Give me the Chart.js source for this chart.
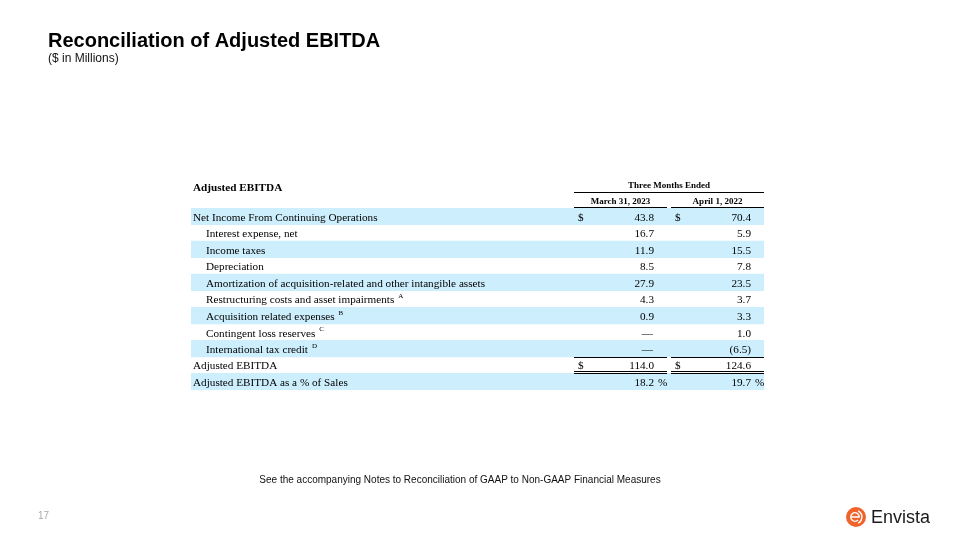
<!DOCTYPE html>
<html>
<head>
<meta charset="utf-8">
<script src="https://cdn.jsdelivr.net/npm/chart.js@4"></script>
<style>
  html, body { margin: 0; padding: 0; background: #fff; }
  #wrap { width: 960px; height: 540px; position: relative; }
</style>
</head>
<body>
<div id="wrap"><canvas id="recon" width="960" height="540"></canvas></div>
<script>
// table rows, top to bottom
const rowLabels = [
    'Net Income From Continuing Operations',
    'Interest expense, net',
    'Income taxes',
    'Depreciation',
    'Amortization of acquisition-related and other intangible assets',
    'Restructuring costs and asset impairments',
    'Acquisition related expenses',
    'Contingent loss reserves',
    'International tax credit',
    'Adjusted EBITDA',
    'Adjusted EBITDA as a % of Sales'
];
const rowIndent = [0, 1, 1, 1, 1, 1, 1, 1, 1, 0, 0];
const footnotes = ['', '', '', '', '', 'A', 'B', 'C', 'D', '', ''];
const periods = ['March 31, 2023', 'April 1, 2022'];
const march2023 = [43.8, 16.7, 11.9, 8.5, 27.9, 4.3, 0.9, null, null, 114.0, 18.2];
const april2022 = [70.4, 5.9, 15.5, 7.8, 23.5, 3.7, 3.3, 1.0, -6.5, 124.6, 19.7];
const dollarRows = [0, 9];
const percentRows = [10];
const totalRow = 9;

const SHADE = '#cdeefc';
const SERIF = '"Liberation Serif", "Times New Roman", serif';
const SANS = '"Liberation Sans", Arial, sans-serif';

function fmt(v) {
    if (v === null) return '\u2014';
    if (v < 0) return '(' + Math.abs(v).toFixed(1) + ')';
    return v.toFixed(1);
}

// every other row gets a light blue band
const shading = rowLabels.map((_, i) => (i % 2 === 0 ? [0, 1] : null));

const tablePlugin = {
    id: 'tableText',
    afterDatasetsDraw(chart) {
        const ctx = chart.ctx;
        const ca = chart.chartArea;
        const yScale = chart.scales.y;
        const left = ca.left;
        // column geometry (px from table left)
        const colStart = [left + 383, left + 480];
        const colEnd = [left + 476, left + 573];
        const numRight = [left + 463, left + 560];
        const body = '11.2px ' + SERIF;

        ctx.save();
        ctx.textBaseline = 'middle';

        // headers
        ctx.fillStyle = '#000';
        ctx.font = 'bold 11.2px ' + SERIF;
        ctx.textAlign = 'left';
        ctx.fillText('Adjusted EBITDA', left + 2, ca.top - 20);
        ctx.font = 'bold 9px ' + SERIF;
        ctx.textAlign = 'center';
        ctx.fillText('Three Months Ended', (colStart[0] + colEnd[1]) / 2, ca.top - 22);
        periods.forEach((p, k) => ctx.fillText(p, (colStart[k] + colEnd[k]) / 2, ca.top - 6.5));

        ctx.strokeStyle = '#000';
        ctx.lineWidth = 1;
        const hline = (x1, x2, y) => {
            ctx.beginPath();
            ctx.moveTo(x1, Math.round(y) + 0.5);
            ctx.lineTo(x2, Math.round(y) + 0.5);
            ctx.stroke();
        };
        hline(colStart[0], colEnd[1], ca.top - 16);
        for (let k = 0; k < 2; k++) hline(colStart[k], colEnd[k], ca.top - 1);

        // body rows
        rowLabels.forEach((label, i) => {
            const y = yScale.getPixelForValue(i) + (i === totalRow ? 0.5 : 1.5);
            ctx.textAlign = 'left';
            ctx.font = body;
            const lx = left + 2 + rowIndent[i] * 13;
            ctx.fillText(label, lx, y);
            if (footnotes[i]) {
                const w = ctx.measureText(label).width;
                ctx.font = '7px ' + SERIF;
                ctx.fillText(footnotes[i], lx + w + 4, y - 4);
                ctx.font = body;
            }
            [march2023, april2022].forEach((series, k) => {
                const v = series[i];
                ctx.textAlign = 'right';
                if (v === null) {
                    ctx.fillText(fmt(v), numRight[k] - 1, y);
                } else {
                    ctx.fillText(fmt(v), numRight[k], y);
                }
                if (percentRows.includes(i)) {
                    ctx.textAlign = 'left';
                    ctx.fillText('%', numRight[k] + 4, y);
                }
                if (dollarRows.includes(i)) {
                    ctx.textAlign = 'left';
                    ctx.fillText('$', colStart[k] + 4, y);
                }
            });
        });

        // rules above and below the total
        const step = yScale.getPixelForValue(1) - yScale.getPixelForValue(0);
        const totalTop = yScale.getPixelForValue(totalRow) - step / 2;
        const totalBottom = yScale.getPixelForValue(totalRow) + step / 2;
        for (let k = 0; k < 2; k++) {
            hline(colStart[k], colEnd[k], totalTop);
            hline(colStart[k], colEnd[k], totalBottom - 2);
            hline(colStart[k], colEnd[k], totalBottom);
        }

        // slide title and footer
        ctx.textAlign = 'left';
        ctx.textBaseline = 'alphabetic';
        ctx.fillStyle = '#000';
        ctx.font = 'bold 20px ' + SANS;
        ctx.fillText('Reconciliation of Adjusted EBITDA', 48, 47);
        ctx.font = '12px ' + SANS;
        ctx.fillStyle = '#111';
        ctx.fillText('($ in Millions)', 48, 62);
        ctx.font = '10px ' + SANS;
        ctx.textAlign = 'center';
        ctx.fillText('See the accompanying Notes to Reconciliation of GAAP to Non-GAAP Financial Measures', 460, 483);
        ctx.fillStyle = '#aaa';
        ctx.textAlign = 'left';
        ctx.font = '10px ' + SANS;
        ctx.fillText('17', 38, 519);

        // logo
        const cx = 856, cy = 517;
        ctx.fillStyle = '#f0642b';
        ctx.beginPath();
        ctx.arc(cx, cy, 10, 0, Math.PI * 2);
        ctx.fill();
        ctx.strokeStyle = '#fff';
        ctx.lineWidth = 1.4;
        ctx.beginPath();
        ctx.arc(cx - 1, cy, 4.2, 0.25 * Math.PI, 2 * Math.PI);
        ctx.lineTo(cx - 5, cy);
        ctx.stroke();
        ctx.beginPath();
        ctx.arc(cx - 1, cy, 7, -0.35 * Math.PI, 0.35 * Math.PI);
        ctx.stroke();
        ctx.fillStyle = '#1a1a1a';
        ctx.font = '18px ' + SANS;
        ctx.fillText('Envista', 871, 523);
        ctx.restore();
    }
};

new Chart(document.getElementById('recon'), {
    type: 'bar',
    data: {
        labels: rowLabels,
        datasets: [{
            data: shading,
            backgroundColor: SHADE,
            borderWidth: 0,
            barPercentage: 1,
            categoryPercentage: 1
        }]
    },
    options: {
        indexAxis: 'y',
        responsive: false,
        animation: false,
        layout: { padding: { left: 191, right: 196, top: 208, bottom: 150 } },
        scales: {
            x: { display: false, min: 0, max: 1 },
            y: { display: false }
        },
        plugins: {
            legend: { display: false },
            tooltip: { enabled: false }
        }
    },
    plugins: [tablePlugin]
});
</script>
</body>
</html>
